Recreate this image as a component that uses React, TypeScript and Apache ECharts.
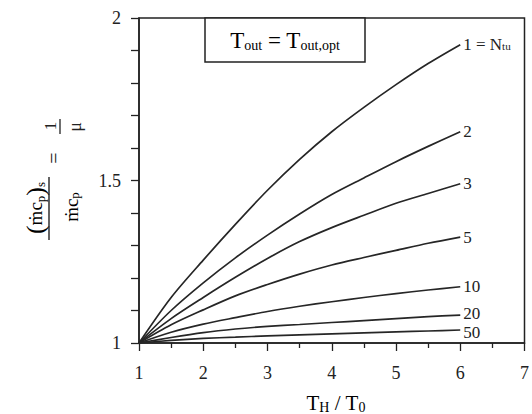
import React, { useEffect, useRef } from "react";
import * as echarts from "echarts";

const xValues = [1, 1.5, 2, 2.5, 3, 3.5, 4, 4.5, 5, 5.5, 6];
const ntuNames = ["1", "2", "3", "5", "10", "20", "50"];
const ntu1 = [1, 1.14, 1.255, 1.365, 1.47, 1.565, 1.65, 1.725, 1.795, 1.86, 1.918];
const ntu2 = [1, 1.1, 1.185, 1.262, 1.332, 1.397, 1.457, 1.508, 1.558, 1.605, 1.65];
const ntu3 = [1, 1.075, 1.14, 1.202, 1.26, 1.312, 1.355, 1.393, 1.43, 1.46, 1.49];
const ntu5 = [1, 1.056, 1.102, 1.145, 1.18, 1.212, 1.24, 1.263, 1.285, 1.307, 1.326];
const ntu10 = [1, 1.033, 1.058, 1.078, 1.097, 1.113, 1.127, 1.14, 1.152, 1.163, 1.173];
const ntu20 = [1, 1.017, 1.032, 1.043, 1.051, 1.057, 1.063, 1.069, 1.075, 1.081, 1.086];
const ntu50 = [1, 1.008, 1.014, 1.018, 1.022, 1.025, 1.028, 1.031, 1.034, 1.037, 1.04];
const seriesValues = [ntu1, ntu2, ntu3, ntu5, ntu10, ntu20, ntu50];
const labelOffsets = [[0, 0], [0, 0], [0, 0], [0, 0], [0, 0], [0, -2], [0, 2]];

const FONT = "Liberation Serif";
const INK = "#222";

const subRich = {
  a: { fontFamily: FONT, fontSize: 17, lineHeight: 13, color: INK },
  s: { fontFamily: FONT, fontSize: 11, lineHeight: 8, color: INK, verticalAlign: "bottom" },
};

export default function App() {
  const ref = useRef<HTMLDivElement>(null);
  useEffect(() => {
    if (!ref.current) return;
    const chart = echarts.init(ref.current, null, { renderer: "svg" });
    const series = seriesValues.map((vals, i) => ({
      name: ntuNames[i],
      type: "line",
      smooth: 0.3,
      showSymbol: false,
      symbol: "none",
      data: vals.map((v, j) => [xValues[j], v]),
      lineStyle: { color: "#262626", width: 1.7 },
      endLabel: {
        show: true,
        distance: 3,
        offset: labelOffsets[i],
        formatter: i === 0 ? "{a|1 = N}{s|tu}" : "{a|" + ntuNames[i] + "}",
        rich: subRich,
      },
    }));
    chart.setOption({
      animation: false,
      backgroundColor: "#fff",
      textStyle: { fontFamily: FONT },
      grid: {
        left: 139,
        right: 4,
        top: 18,
        bottom: 71,
        show: true,
        borderColor: INK,
        borderWidth: 1.5,
        containLabel: false,
      },
      xAxis: {
        type: "value",
        min: 1,
        max: 7,
        interval: 1,
        axisLine: { show: true, lineStyle: { color: INK, width: 1.5 } },
        axisTick: { show: true, length: 8, lineStyle: { color: INK, width: 1.3 } },
        minorTick: { show: true, splitNumber: 2, length: 5, lineStyle: { color: INK, width: 1.3 } },
        splitLine: { show: false },
        axisLabel: { margin: 21, fontFamily: FONT, fontSize: 18, color: INK },
      },
      yAxis: {
        type: "value",
        min: 1,
        max: 2,
        interval: 0.5,
        axisLine: { show: true, lineStyle: { color: INK, width: 1.5 } },
        axisTick: { show: true, length: 8, lineStyle: { color: INK, width: 1.3 } },
        minorTick: { show: true, splitNumber: 5, length: 8, lineStyle: { color: INK, width: 1.3 } },
        splitLine: { show: false },
        axisLabel: { margin: 18, fontFamily: FONT, fontSize: 18, color: INK },
      },
      series,
      graphic: [
        {
          type: "rect",
          shape: { x: 205, y: 18, width: 160, height: 44 },
          style: { fill: "#fff", stroke: INK, lineWidth: 1.5 },
          z: 10,
        },
        {
          type: "text",
          x: 285,
          y: 40,
          z: 11,
          style: {
            text: "{a|T}{s|out}{a| = T}{s|out,opt}",
            align: "center",
            verticalAlign: "middle",
            rich: {
              a: { fontFamily: FONT, fontSize: 23, lineHeight: 24, color: INK },
              s: { fontFamily: FONT, fontSize: 14, lineHeight: 13, color: INK, verticalAlign: "bottom" },
            },
          },
        },
        {
          type: "text",
          x: 336,
          y: 403,
          style: {
            text: "{a|T}{s|H}{a| / T}{s|0}",
            align: "center",
            verticalAlign: "middle",
            rich: {
              a: { fontFamily: FONT, fontSize: 21, lineHeight: 22, color: INK },
              s: { fontFamily: FONT, fontSize: 14, lineHeight: 12, color: INK, verticalAlign: "bottom" },
            },
          },
        },
        {
          type: "group",
          x: 49,
          y: 180,
          rotation: Math.PI / 2,
          children: [
            {
              type: "text",
              x: -28,
              y: -14,
              style: {
                text: "{p|(}{a|ṁc}{s|p}{p|)}{s|s}",
                align: "center",
                verticalAlign: "middle",
                rich: {
                  p: { fontFamily: FONT, fontSize: 26, lineHeight: 24, color: INK },
                  a: { fontFamily: FONT, fontSize: 19, lineHeight: 20, color: INK },
                  s: { fontFamily: FONT, fontSize: 13, lineHeight: 12, color: INK, verticalAlign: "bottom" },
                },
              },
            },
            {
              type: "line",
              shape: { x1: -60, y1: 0, x2: 3, y2: 0 },
              style: { stroke: INK, lineWidth: 1.4 },
            },
            {
              type: "text",
              x: -27,
              y: 22,
              style: {
                text: "{a|ṁc}{s|p}",
                align: "center",
                verticalAlign: "middle",
                rich: {
                  a: { fontFamily: FONT, fontSize: 19, lineHeight: 20, color: INK },
                  s: { fontFamily: FONT, fontSize: 13, lineHeight: 12, color: INK, verticalAlign: "bottom" },
                },
              },
            },
            {
              type: "text",
              x: 22,
              y: 5,
              style: { text: "=", align: "center", verticalAlign: "middle", fontFamily: FONT, fontSize: 20, fill: INK },
            },
            {
              type: "text",
              x: 54,
              y: 1,
              style: { text: "1", align: "center", verticalAlign: "middle", fontFamily: FONT, fontSize: 17, fill: INK },
            },
            {
              type: "line",
              shape: { x1: 46, y1: 11, x2: 61, y2: 11 },
              style: { stroke: INK, lineWidth: 1.3 },
            },
            {
              type: "text",
              x: 53,
              y: 26,
              style: { text: "μ", align: "center", verticalAlign: "middle", fontFamily: FONT, fontSize: 18, fill: INK },
            },
          ],
        },
      ],
    });
    return () => chart.dispose();
  }, []);
  return (
    <div
      ref={ref}
      style={{ position: "fixed", left: 0, top: 0, width: 532, height: 414 }}
    />
  );
}
